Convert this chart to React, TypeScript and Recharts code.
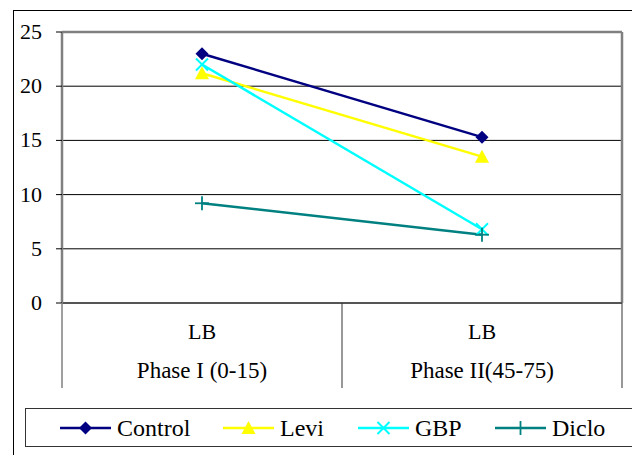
import React from "react";
import {
  LineChart,
  Line,
  XAxis,
  YAxis,
  CartesianGrid,
  Legend,
} from "recharts";

const groups = ["LB", "LB"];
const phases = ["Phase I (0-15)", "Phase II(45-75)"];
const control = [23.0, 15.3];
const levi = [21.2, 13.5];
const gbp = [22.0, 6.8];
const diclo = [9.2, 6.3];
const yTicks = [0, 5, 10, 15, 20, 25];

const data = phases.map((phase, i) => ({
  phase,
  group: groups[i],
  Control: control[i],
  Levi: levi[i],
  GBP: gbp[i],
  Diclo: diclo[i],
}));

const FONT = "Liberation Serif";
const HALF = 140;
// legend item offsets inside the legend box
const LEGEND_X = [35, 198, 333, 470];

const series = [
  { key: "Control", color: "#000080", shape: "diamond" },
  { key: "Levi", color: "#FFFF00", shape: "triangle" },
  { key: "GBP", color: "#00FFFF", shape: "x" },
  { key: "Diclo", color: "#008080", shape: "plus" },
];

function Marker({ cx, cy, shape, color }: any) {
  if (cx == null || cy == null) return null;
  if (shape === "diamond")
    return (
      <polygon
        points={`${cx},${cy - 6.5} ${cx + 6.5},${cy} ${cx},${cy + 6.5} ${cx - 6.5},${cy}`}
        fill={color}
      />
    );
  if (shape === "triangle")
    return (
      <polygon
        points={`${cx},${cy - 7} ${cx + 7},${cy + 6} ${cx - 7},${cy + 6}`}
        fill={color}
      />
    );
  if (shape === "x")
    return (
      <g stroke={color} strokeWidth={2}>
        <line x1={cx - 6} y1={cy - 6} x2={cx + 6} y2={cy + 6} />
        <line x1={cx - 6} y1={cy + 6} x2={cx + 6} y2={cy - 6} />
      </g>
    );
  return (
    <g stroke={color} strokeWidth={1.8}>
      <line x1={cx - 7} y1={cy} x2={cx + 7} y2={cy} />
      <line x1={cx} y1={cy - 7} x2={cx} y2={cy + 7} />
    </g>
  );
}

function CategoryTick({ x, y, index, payload }: any) {
  return (
    <g>
      {index === 0 && (
        <line x1={x - HALF} y1={y} x2={x - HALF} y2={y + 85} stroke="#808080" strokeWidth={1.5} />
      )}
      <line x1={x + HALF} y1={y} x2={x + HALF} y2={y + 85} stroke="#333" strokeWidth={1} />
      <text x={x} y={y + 36} textAnchor="middle" fontFamily={FONT} fontSize={22} fill="#000">
        {groups[index]}
      </text>
      <text x={x} y={y + 75} textAnchor="middle" fontFamily={FONT} fontSize={23} fill="#000">
        {payload.value}
      </text>
    </g>
  );
}

function ValueTick({ x, y, payload }: any) {
  return (
    <text x={x} y={y + 7} textAnchor="end" fontFamily={FONT} fontSize={22} fill="#000">
      {payload.value}
    </text>
  );
}

function LegendBox() {
  return (
    <svg width={620} height={39} style={{ display: "block" }}>
      <rect x={0.5} y={0.5} width={640} height={38} fill="#fff" stroke="#333" strokeWidth={1} />
      {series.map((s, i) => {
        const lx = LEGEND_X[i];
        return (
          <g key={s.key}>
            <line x1={lx} y1={20} x2={lx + 51} y2={20} stroke={s.color} strokeWidth={2.5} />
            <Marker cx={lx + 25.5} cy={20} shape={s.shape} color={s.color} />
            <text x={lx + 57} y={28} fontFamily={FONT} fontSize={24} fill="#000">
              {s.key}
            </text>
          </g>
        );
      })}
    </svg>
  );
}

export default function App() {
  return (
    <div
      style={{
        position: "absolute",
        left: 0,
        top: 0,
        width: 632,
        height: 455,
        overflow: "hidden",
        background: "#fff",
      }}
    >
      <div
        style={{
          position: "absolute",
          left: 13,
          top: 10,
          width: 700,
          height: 500,
          border: "1px solid #000",
        }}
      />
      <div style={{ position: "absolute", left: 0, top: 0 }}>
        <LineChart
          width={632}
          height={455}
          data={data}
          margin={{ top: 32, right: 10, bottom: 67, left: 12 }}
        >
          <CartesianGrid vertical={false} stroke="#000" strokeWidth={1} />
          <CartesianGrid
            stroke="#808080"
            strokeWidth={2.5}
            horizontalCoordinatesGenerator={({ offset }: any) => [offset.top]}
            verticalCoordinatesGenerator={({ offset }: any) => [offset.left + offset.width]}
          />
          <XAxis
            dataKey="phase"
            padding={{ left: HALF, right: HALF }}
            height={85}
            tickLine={false}
            tickSize={0}
            tickMargin={0}
            axisLine={{ stroke: "#555", strokeWidth: 2 }}
            tick={<CategoryTick />}
            interval={0}
          />
          <YAxis
            domain={[0, 25]}
            ticks={yTicks}
            width={50}
            tickSize={6}
            tickMargin={14}
            axisLine={{ stroke: "#808080", strokeWidth: 2.5 }}
            tickLine={{ stroke: "#000" }}
            tick={<ValueTick />}
          />
          {series.map((s) => (
            <Line
              key={s.key}
              dataKey={s.key}
              stroke={s.color}
              strokeWidth={2.5}
              isAnimationActive={false}
              dot={(p: any) => (
                <Marker key={`${s.key}-${p.index}`} cx={p.cx} cy={p.cy} shape={s.shape} color={s.color} />
              )}
              activeDot={false}
            />
          ))}
          <Legend
            layout="horizontal"
            verticalAlign="middle"
            align="center"
            content={<LegendBox />}
            wrapperStyle={{ left: 25, top: 408, width: 620, height: 39 }}
          />
        </LineChart>
      </div>
    </div>
  );
}
